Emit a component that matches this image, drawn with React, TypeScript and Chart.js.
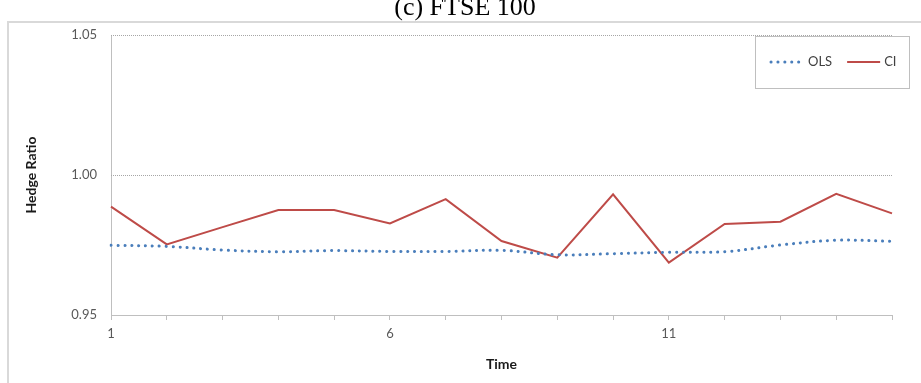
import React, { useEffect, useRef } from 'react';
import { Chart, registerables } from 'chart.js';

Chart.register(...registerables);

// Time index (1..15)
const timeLabels = ['1', '2', '3', '4', '5', '6', '7', '8', '9', '10', '11', '12', '13', '14', '15'];
// Only these time labels are printed under the axis
const shownTimeLabels = ['1', '6', '11'];

// Hedge ratios
const olsRatio = [0.9749, 0.9745, 0.9732, 0.9726, 0.973, 0.9727, 0.9727, 0.9731, 0.9715, 0.9719, 0.9724, 0.9726, 0.975, 0.9767, 0.9763];
const ciRatio = [0.9887, 0.9752, 0.9814, 0.9875, 0.9875, 0.9827, 0.9914, 0.9764, 0.9705, 0.9931, 0.9687, 0.9825, 0.9833, 0.9933, 0.9863];

const yTickValues = [0.95, 1.0, 1.05];

const TITLE = '(c) FTSE 100';
const AXIS_GRAY = '#bfbfbf';
const FONT = 'Lato, "Open Sans", "DejaVu Sans", sans-serif';

// Outer frame and the title above it
const framePlugin = {
  id: 'frameAndTitle',
  beforeDraw(chart: any) {
    const { ctx, width, height } = chart;
    ctx.save();
    ctx.fillStyle = '#ffffff';
    ctx.fillRect(0, 0, width, height);
    ctx.strokeStyle = '#d9d9d9';
    ctx.lineWidth = 2;
    ctx.beginPath();
    ctx.moveTo(8, height + 2);
    ctx.lineTo(8, 22);
    ctx.lineTo(width + 2, 22);
    ctx.stroke();
    ctx.fillStyle = '#000000';
    ctx.font = '26px "Liberation Serif", "Times New Roman", serif';
    ctx.textAlign = 'center';
    ctx.textBaseline = 'alphabetic';
    ctx.fillText(TITLE, 465, 15);
    ctx.restore();
  },
};

// Boxed legend in the upper right corner
const boxLegendPlugin = {
  id: 'boxLegend',
  afterDraw(chart: any) {
    const { ctx } = chart;
    const x0 = 755;
    const y0 = 36;
    const w = 154;
    const h = 52;
    const cy = y0 + h / 2;
    ctx.save();
    ctx.fillStyle = '#ffffff';
    ctx.fillRect(x0, y0, w, h);
    ctx.strokeStyle = '#bfbfbf';
    ctx.lineWidth = 1;
    ctx.strokeRect(x0 + 0.5, y0 + 0.5, w, h);
    ctx.font = '13px ' + FONT;
    ctx.textBaseline = 'middle';
    ctx.textAlign = 'left';
    let x = x0 + 16;
    chart.data.datasets.forEach((ds: any) => {
      ctx.save();
      ctx.strokeStyle = ds.borderColor;
      ctx.lineWidth = ds.borderWidth;
      ctx.lineCap = ds.borderCapStyle || 'butt';
      ctx.setLineDash(ds.borderDash || []);
      ctx.beginPath();
      ctx.moveTo(x, cy);
      ctx.lineTo(x + 33, cy);
      ctx.stroke();
      ctx.restore();
      ctx.fillStyle = '#404040';
      ctx.fillText(ds.label, x + 37, cy);
      x += 37 + ctx.measureText(ds.label).width + 15;
    });
    ctx.restore();
  },
};

export default function App() {
  const canvasRef = useRef<HTMLCanvasElement | null>(null);

  useEffect(() => {
    const canvas = canvasRef.current;
    if (!canvas) return;
    const chart = new Chart(canvas, {
      type: 'line',
      data: {
        labels: timeLabels,
        datasets: [
          {
            label: 'OLS',
            data: olsRatio,
            borderColor: '#4a7ebb',
            borderWidth: 3,
            borderDash: [0.1, 6.8],
            borderCapStyle: 'round',
            pointRadius: 0,
            tension: 0.35,
            fill: false,
          },
          {
            label: 'CI',
            data: ciRatio,
            borderColor: '#be4b48',
            borderWidth: 2,
            pointRadius: 0,
            tension: 0,
            fill: false,
          },
        ],
      },
      options: {
        animation: false,
        responsive: false,
        layout: { padding: { top: 35, right: 29, left: 0, bottom: 0 } },
        plugins: {
          legend: { display: false },
          title: { display: false },
          tooltip: { enabled: false },
        },
        scales: {
          x: {
            type: 'category',
            offset: false,
            afterFit: (scale: any) => {
              scale.height = 68;
            },
            grid: {
              offset: false,
              drawOnChartArea: true,
              color: (c: any) => (c.index === 0 ? AXIS_GRAY : 'rgba(0,0,0,0)'),
              lineWidth: 1,
              drawTicks: true,
              tickLength: 5,
              tickColor: AXIS_GRAY,
              tickWidth: 1,
            },
            border: { display: true, color: AXIS_GRAY, width: 1 },
            ticks: {
              autoSkip: false,
              maxRotation: 0,
              padding: 6,
              color: '#595959',
              font: { family: FONT, size: 13 },
              callback: (_v: any, i: number) =>
                shownTimeLabels.includes(timeLabels[i]) ? timeLabels[i] : '',
            },
            title: {
              display: true,
              text: 'Time',
              color: '#1a1a1a',
              font: { family: FONT, size: 14, weight: 'bold' },
              padding: { top: 0, bottom: 10 },
            },
          },
          y: {
            min: 0.95,
            max: 1.05,
            afterFit: (scale: any) => {
              scale.width = 111;
            },
            afterBuildTicks: (scale: any) => {
              scale.ticks = yTickValues.map((v) => ({ value: v }));
            },
            grid: {
              drawTicks: false,
              lineWidth: 1,
              color: (c: any) =>
                c.tick && Math.abs(c.tick.value - 0.95) < 1e-9 ? 'rgba(0,0,0,0)' : '#a6a6a6',
            },
            border: { display: false, dash: [1, 1] },
            ticks: {
              padding: 14,
              color: '#595959',
              font: { family: FONT, size: 13 },
              callback: (v: any) => Number(v).toFixed(2),
            },
            title: {
              display: true,
              text: 'Hedge Ratio',
              color: '#1a1a1a',
              font: { family: FONT, size: 14, weight: 'bold' },
              padding: { top: 23, bottom: 0 },
            },
          },
        },
      },
      plugins: [framePlugin, boxLegendPlugin],
    } as any);
    return () => chart.destroy();
  }, []);

  return (
    <div style={{ position: 'fixed', left: 0, top: 0, width: 921, height: 383, background: '#fff' }}>
      <canvas ref={canvasRef} width={921} height={383} style={{ display: 'block' }} />
    </div>
  );
}
